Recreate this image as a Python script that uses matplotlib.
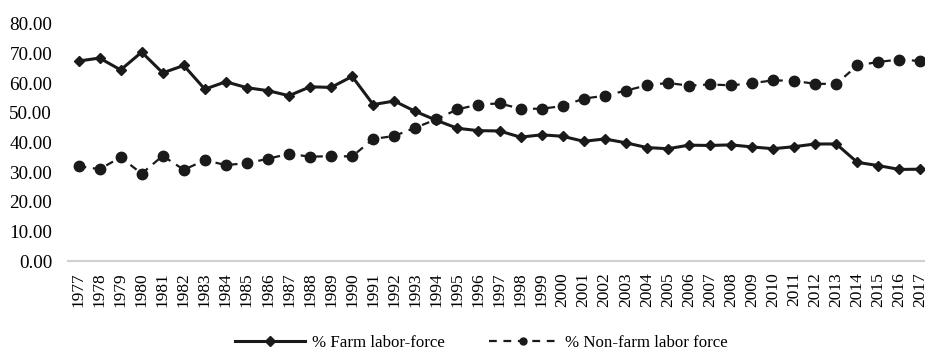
import matplotlib
matplotlib.use("Agg")
import matplotlib.pyplot as plt
import numpy as np

years = [str(y) for y in range(1977, 2018)]
farm = [67.5, 68.5, 64.5, 70.5, 63.5, 66.0, 58.0, 60.5, 58.5, 57.5, 55.8, 58.8, 58.6, 62.3,
        52.8, 54.0, 50.5, 47.5, 44.8, 44.0, 43.9, 41.8, 42.6, 42.1, 40.4, 41.2, 39.9, 38.3,
        37.9, 39.1, 39.0, 39.2, 38.5, 37.9, 38.6, 39.5, 39.5, 33.3, 32.2, 30.9, 31.0]
nonfarm = [32.0, 31.0, 35.0, 29.5, 35.5, 30.8, 34.0, 32.4, 33.0, 34.5, 36.2, 35.2, 35.4, 35.3,
           41.2, 42.2, 45.0, 47.8, 51.2, 52.8, 53.2, 51.4, 51.4, 52.3, 54.8, 55.8, 57.5, 59.3,
           60.1, 59.2, 59.6, 59.3, 60.0, 61.0, 60.8, 59.8, 59.8, 66.0, 67.2, 68.0, 67.5]
yticks = [0, 10, 20, 30, 40, 50, 60, 70, 80]

plt.rcParams['font.family'] = ['Liberation Serif', 'DejaVu Serif']

fig = plt.figure(figsize=(9.25, 3.51), dpi=100)
W, H = 925, 351
left, right, top, bottom = 68, 931, 24, 261
ax = fig.add_axes([left / W, 1 - bottom / H, (right - left) / W, (bottom - top) / H])

x = np.arange(len(years))
ax.plot(x, farm, color='#1a1a1a', lw=2.2, marker='D', markersize=5.5, label='% Farm labor-force')
ax.plot(x, nonfarm, color='#1a1a1a', lw=1.6, ls=(0, (3.5, 3)), marker='o', markersize=7.5,
        label='% Non-farm labor force')

ax.set_xlim(-0.5, len(years) - 0.5)
ax.set_ylim(0, 80)
ax.set_yticks(yticks)
ax.set_yticklabels([f"{v:.2f}" for v in yticks], fontsize=13.8)
ax.set_xticks(x)
ax.set_xticklabels(years, rotation=90, fontsize=12.5)
ax.tick_params(axis='x', length=0, pad=8)
ax.tick_params(axis='y', length=0, pad=11.5)
for s in ['top', 'right', 'left']:
    ax.spines[s].set_visible(False)
ax.spines['bottom'].set_color('#d0d0d0')
ax.spines['bottom'].set_linewidth(1.5)

leg = fig.legend(loc='center', bbox_to_anchor=(481.5 / W, 1 - 343 / H), ncol=2, frameon=False,
                 fontsize=12.2, handlelength=4.1, columnspacing=2.6, handletextpad=0.4)
for h in leg.legend_handles:
    h.set_markersize(5)

fig.savefig('out.png', dpi=100)
